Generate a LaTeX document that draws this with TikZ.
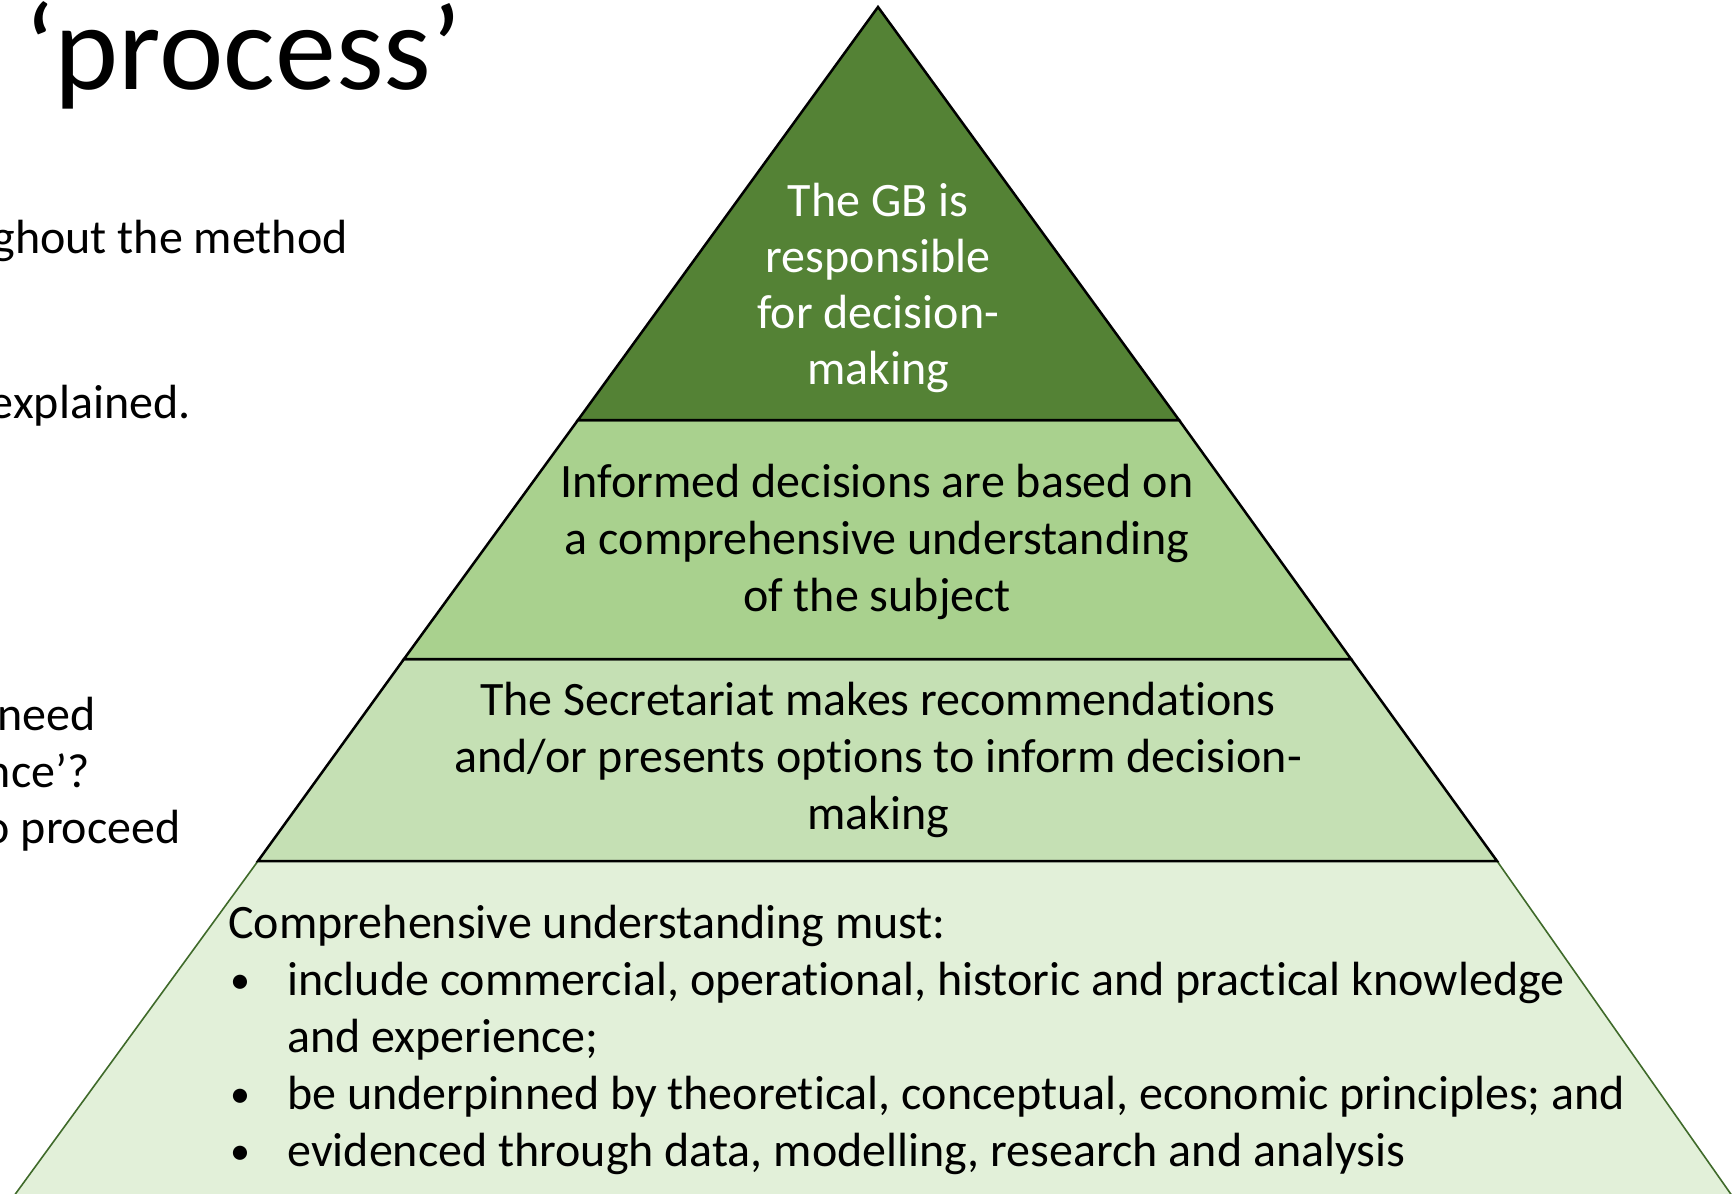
\documentclass[tikz,border=0pt]{standalone}
\usepackage{fontspec}
\setmainfont{Carlito}[Ligatures=NoCommon]
\definecolor{gDark}{HTML}{548235}
\definecolor{gMid}{HTML}{A9D18E}
\definecolor{gLight}{HTML}{C5E0B4}
\definecolor{gPale}{HTML}{E2F0D9}
\definecolor{gEdge}{HTML}{3F6A2A}
\newcommand{\pbul}{\makebox[29.5pt][l]{\hspace{1pt}{\fontsize{20}{22}\selectfont\raisebox{1pt}{•}}}}
\begin{document}
\begin{tikzpicture}[x=0.5pt,y=-0.5pt,
  body/.style={inner sep=0pt, font=\fontsize{24}{28.5}\selectfont},
  blackedge/.style={draw=black, line width=1.25pt, line join=miter},
  greenedge/.style={draw=gEdge, line width=0.8pt}]
\useasboundingbox (0,0) rectangle (1732,1193);
\clip (0,0) rectangle (1732,1193);
% corner points of the pyramid
\coordinate (apex) at (878,7);
\coordinate (l1L) at (578,420);  \coordinate (l1R) at (1179,420);
\coordinate (l2L) at (404,659);  \coordinate (l2R) at (1351,659);
\coordinate (l3L) at (258,861);  \coordinate (l3R) at (1497,861);
\coordinate (l4L) at (16,1193);  \coordinate (l4R) at (1730,1193);
\coordinate (l5L) at (11,1200);  \coordinate (l5R) at (1735,1200);
% layers
\fill[gPale] (l3L) -- (l3R) -- (l5R) -- (l5L) -- cycle;
\draw[greenedge] (l5L) -- (l3L) -- (l3R) -- (l5R);
\filldraw[fill=gLight, blackedge] (l2L) -- (l2R) -- (l3R) -- (l3L) -- cycle;
\filldraw[fill=gMid, blackedge] (l1L) -- (l1R) -- (l2R) -- (l2L) -- cycle;
\filldraw[fill=gDark, blackedge] (apex) -- (l1R) -- (l1L) -- cycle;
% title and left text
\node[inner sep=0pt, anchor=base west, font=\fontsize{61}{68}\selectfont] (title) at (24,90) {‘process’};
\node[body, anchor=base east] (t1) at (348,253) {ghout the method};
\node[body, anchor=base east] (t2) at (191,418) {explained.};
\node[body, anchor=base east] (t3) at (96,730) {need};
\node[body, anchor=base east] (t4) at (90,787) {nce’?};
\node[body, anchor=base east] (t5) at (181,843) {o proceed};
% pyramid texts
\node[body, anchor=base, text=white] (top) at (878,216)
  {\fontsize{24}{28}\selectfont\begin{tabular}[t]{@{}c@{}}The GB is\\responsible\\for decision-\\making\end{tabular}};
\node[body, anchor=base] (mid) at (877,497)
  {\begin{tabular}[t]{@{}c@{}}Informed decisions are based on\\a comprehensive understanding\\of the subject\end{tabular}};
\node[body, anchor=base] (sec) at (878,715)
  {\begin{tabular}[t]{@{}c@{}}The Secretariat makes recommendations\\and/or presents options to inform decision-\\making\end{tabular}};
\node[body, anchor=base west] (base) at (228,938)
  {\begin{tabular}[t]{@{}l@{}}Comprehensive understanding must:\\
  \pbul include commercial, operational, historic and practical knowledge\\
  \hspace{29.5pt}and experience;\\
  \pbul be underpinned by theoretical, conceptual, economic principles; and\\
  \pbul evidenced through data, modelling, research and analysis\end{tabular}};
\end{tikzpicture}
\end{document}
